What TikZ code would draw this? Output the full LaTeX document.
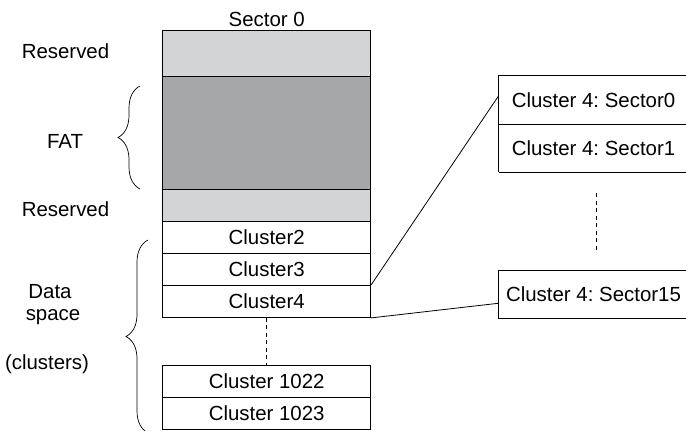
\documentclass[tikz,border=0pt]{standalone}
\usepackage{fontspec}
\setmainfont{Liberation Sans}
\usetikzlibrary{decorations.pathreplacing,calc}
\definecolor{lightg}{RGB}{211,212,214}
\definecolor{darkg}{RGB}{166,167,169}
\frenchspacing
\begin{document}
\begin{tikzpicture}[x=1bp,y=-1bp, font=\fontsize{20.5}{24}\selectfont, line width=0.8bp,
 cell/.style={draw, minimum width=208bp, minimum height=32.2bp, inner sep=0pt},
 rcell/.style={minimum width=189bp, minimum height=47.8bp, inner sep=0pt},
 lbl/.style={inner sep=0pt, anchor=base},
 dashline/.style={dash pattern=on 4bp off 3.5bp},
 brc/.style={decorate, decoration={brace, amplitude=22bp}, line width=0.7bp}]
\useasboundingbox (0,0) rectangle (686,430);
\clip (0,0) rectangle (686,430);
% left column
\node[cell, fill=lightg, minimum height=45.6bp] (r1) at (266.7,53.5) {};
\node[cell, fill=darkg, minimum height=112.7bp] (fat) at (266.7,132.65) {};
\node[cell, fill=lightg, minimum height=32bp] (r2) at (266.7,205) {};
\node[cell] (c2) at (266.7,237) {Cluster2};
\node[cell] (c3) at (266.7,269.2) {Cluster3};
\node[cell] (c4) at (266.7,301.4) {Cluster4};
\node[cell] (c1022) at (266.7,381.5) {Cluster 1022};
\node[cell] (c1023) at (266.7,413.6) {Cluster 1023};
\draw[dashline] (c4.south) -- (c1022.north);
% labels
\node[lbl] (s0lbl) at (266.7,26) {Sector 0};
\node[lbl] (res1) at (65.5,58.3) {Reserved};
\node[lbl] (fatlbl) at (65,148.3) {FAT};
\node[lbl] (res2) at (65.5,216.7) {Reserved};
\node[lbl] (data) at (50,298.3) {Data};
\node[lbl] (space) at (53,320) {space};
\node[lbl] (clus) at (47,369.3) {(clusters)};
% braces
\draw[brc] (140,189) -- (140,86);
\draw[brc] (148,433) -- (148,240);
% right column (cut off at the right edge)
\node[rcell] (s0) at (593.5,100.15) {Cluster 4: Sector0};
\node[rcell] (s1) at (593.5,148) {Cluster 4: Sector1};
\node[rcell] (s15) at (593.5,294.5) {Cluster 4: Sector15};
\draw ([xshift=12bp]s0.north east) -| (s0.south west) -- ([xshift=12bp]s0.south east);
\draw (s1.south west) -- ([xshift=12bp]s1.south east);
\draw ([xshift=12bp]s15.north east) -| (s15.south west) -- ([xshift=12bp]s15.south east);
\draw (s0.south west) -- (s1.south west);
\draw[dashline, shorten <=21bp, shorten >=19bp] ([xshift=2.5bp]s1.south) -- ([xshift=2.5bp]s15.north);
% connectors
\draw (c4.north east) -- ($(s0.north west)!0.41!(s0.south west)$);
\draw (c4.south east) -- ($(s15.north west)!0.68!(s15.south west)$);
\end{tikzpicture}
\end{document}
